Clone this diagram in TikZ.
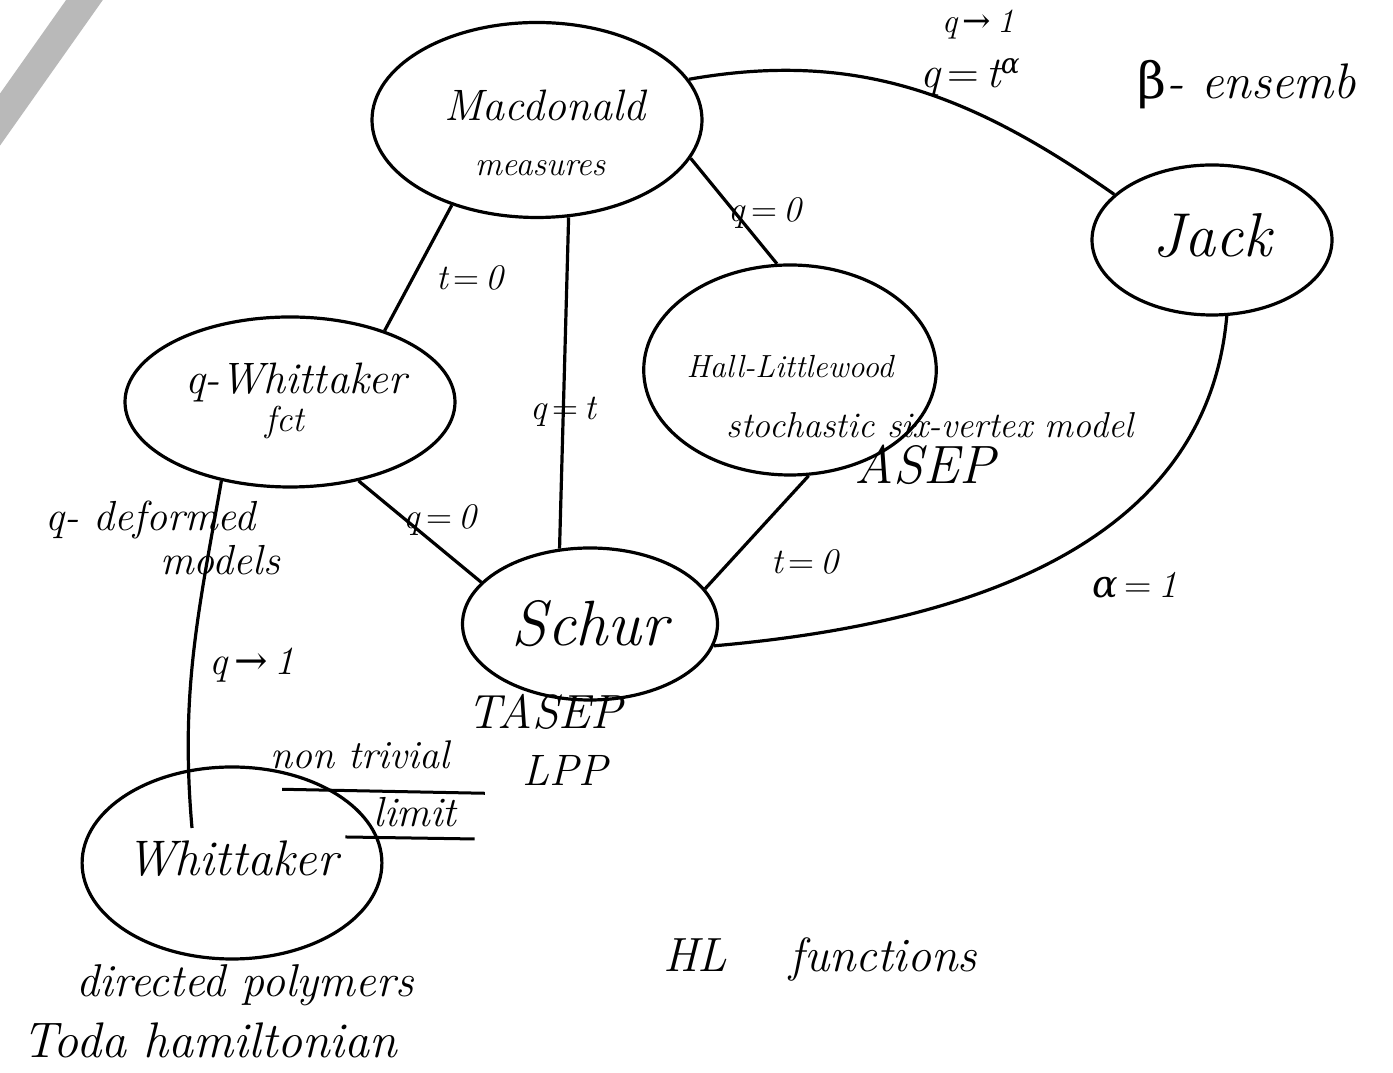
\documentclass[tikz,border=0pt]{standalone}
\usepackage{fontspec}
\newfontfamily\sym{DejaVu Serif}
\usetikzlibrary{shapes.geometric,calc}
\newcommand\hw[1]{\fontsize{#1}{#1}\selectfont\itshape}
\newcommand\arr{{\sym\upshape\,→\,}}
\newcommand\eqs{{\upshape\,=\,}}
\begin{document}
\begin{tikzpicture}[x=1pt,y=1pt,
  nd/.style={ellipse,draw,line width=3.2pt,inner sep=0pt,align=center},
  ed/.style={line width=3.2pt},
  lab/.style={inner sep=0pt,font=\hw{36}},
]
\clip (0,0) rectangle (1393,1073);
\fill[white] (0,0) rectangle (1393,1073);
% pencil stroke in the corner
\draw[gray!55,line width=30pt] (-25,918) -- (100,1095);

% nodes
\node[nd,minimum width=330pt,minimum height=195pt] (mac) at (537,953) {};
\node[lab,font=\hw{44}] (mact) at (545,968) {Macdonald};
\node[lab,font=\hw{34}] (macm) at (540,905) {measures};
\node[nd,minimum width=330pt,minimum height=170pt] (qw) at (290,671) {};
\node[lab,font=\hw{44}] (qwt) at (296,690) {q-Whittaker};
\node[lab,font=\hw{36}] (qwf) at (285,650) {fct};
\node[nd,minimum width=265pt,minimum height=210pt,font=\hw{32}] (hl) at (790,703)
  {\raisebox{8pt}{Hall-Littlewood}};
\node[nd,minimum width=240pt,minimum height=150pt,font=\hw{62}] (jack) at (1212,833) {\raisebox{10pt}{Jack}};
\node[nd,minimum width=255pt,minimum height=152pt,font=\hw{64}] (schur) at (590,449) {Schur};
\node[nd,minimum width=292pt,minimum height=192pt,font=\hw{50}] (wh) at (232,210) {\raisebox{10pt}{Whittaker}};
\coordinate (whin) at (192,245);

% edges
\draw[ed] (mac.225) -- (qw.37);
\draw[ed] (mac.288) -- (schur.112);
\draw[ed] (mac.346) -- (hl.97);
\draw[ed] (mac.15) to[out=10,in=145] (jack.155);
\draw[ed] (jack.281) to[out=-95,in=5] (schur.350);
\draw[ed] (qw.311) -- (schur.159);
\draw[ed] (hl.280) -- (schur.17);
\draw[ed] (qw.229) to[out=-100,in=95] (whin);

% edge labels
\node[lab] (l1) at (470,795) {t\eqs 0};
\node[lab] (l2) at (563,661) {q\eqs t};
\node[lab] (l3) at (765,860) {q\eqs 0};
\node[lab,anchor=base,font=\hw{44}] (l4) at (970,985) {q\eqs t\raisebox{14pt}{\fontsize{28}{28}\selectfont\sym\itshape α}};
\node[lab,anchor=base,font=\hw{34}] (l5) at (978,1040) {q\arr 1};
\node[lab,font=\hw{38}] (l6) at (1135,488) {{\sym\itshape α}\eqs 1};
\node[lab] (l7) at (440,553) {q\eqs 0};
\node[lab] (l8) at (805,511) {t\eqs 0};
\node[lab,font=\hw{40}] (l9) at (252,408) {q\arr 1};

% other texts
\node[lab,anchor=west,font=\hw{42}] (qd1) at (45,553) {q- deformed};
\node[lab,anchor=west,font=\hw{42}] (qd2) at (160,513) {models};
\node[lab,font=\hw{36}] (six) at (930,648) {stochastic six-vertex model};
\node[lab,font=\hw{54}] (asep) at (925,608) {ASEP};
\node[lab,font=\hw{48}] (tasep) at (545,361) {TASEP};
\node[lab,font=\hw{44}] (lpp) at (565,303) {LPP};
\node[lab,font=\hw{40}] (nt) at (360,318) {non trivial};
\node[lab,font=\hw{42}] (lim) at (415,261) {limit};
\draw[line width=3pt] ($(nt.south west)+(12,-20)$) -- ($(nt.south east)+(35,-24)$);
\draw[line width=3pt] ($(lim.south west)+(-28,-10)$) -- ($(lim.south east)+(18,-12)$);
\node[lab,font=\hw{46}] (dp) at (245,88) {directed polymers};
\node[lab,font=\hw{50}] (toda) at (210,33) {Toda hamiltonian};
\node[lab,font=\hw{48}] (hlf) at (820,113) {HL\hspace{1.3em}functions};
\node[lab,anchor=west,font=\hw{50}] (beta) at (1137,988) {{\sym\upshape β}- ensemb};
\end{tikzpicture}
\end{document}
